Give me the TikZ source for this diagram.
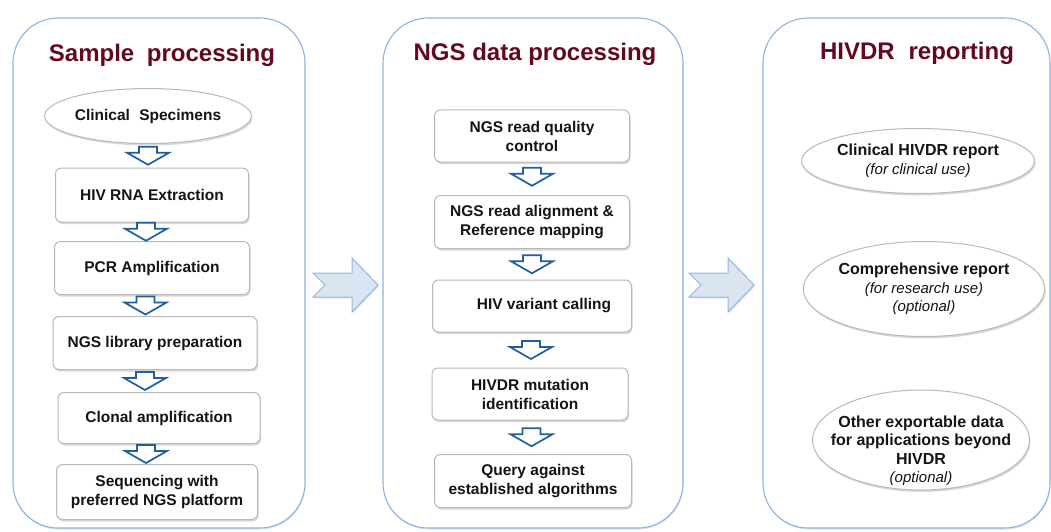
\documentclass[tikz,border=0pt]{standalone}
\usepackage{fontspec}
\setmainfont{Liberation Sans}
\usetikzlibrary{shapes.geometric,shadows,calc}
\definecolor{panelblue}{RGB}{141,179,226}
\definecolor{titlered}{RGB}{100,8,30}
\definecolor{arrblue}{RGB}{31,95,160}
\definecolor{bigfill}{RGB}{219,229,241}
\definecolor{bigdraw}{RGB}{150,182,218}
\definecolor{boxgray}{RGB}{185,185,185}
\definecolor{txt}{RGB}{20,20,20}
\tikzset{
  panel/.style={draw=panelblue, line width=1.1pt, rounded corners=45pt, fill=white,
    minimum height=510pt, inner sep=0pt,
    drop shadow={shadow xshift=0.5pt, shadow yshift=-1.5pt, opacity=0.35, fill=panelblue}},
  ptitle/.style={font=\fontsize{24}{28}\selectfont\bfseries, text=titlered, inner sep=0pt},
  stepbox/.style={draw=boxgray, line width=1pt, rounded corners=6pt, fill=white, align=center,
    inner sep=0pt, font=\fontsize{15.5}{19}\selectfont\bfseries, text=txt,
    drop shadow={shadow xshift=1pt, shadow yshift=-2pt, opacity=0.3}},
  oval/.style={ellipse, draw=boxgray, line width=1pt, fill=white, align=center,
    inner sep=0pt, font=\fontsize{16}{18.5}\selectfont\bfseries, text=txt,
    drop shadow={shadow xshift=1pt, shadow yshift=-2pt, opacity=0.3}},
  ovaltext/.style={align=center, inner sep=0pt, font=\fontsize{16}{18.5}\selectfont\bfseries, text=txt},
  downarr/.pic={\draw[arrblue, line width=1.7pt, fill=white, line join=miter]
    (-9,-9) -- (9,-9) -- (9,-3) -- (21,-3) -- (0,9) -- (-21,-3) -- (-9,-3) -- cycle;},
  bigarr/.pic={\filldraw[draw=bigdraw, fill=bigfill, line width=1pt, line join=miter,
    drop shadow={shadow xshift=1pt, shadow yshift=-1.5pt, opacity=0.2}]
    (-32,-12) -- (7,-12) -- (7,-27) -- (33,0) -- (7,27) -- (7,12) -- (-32,12) -- (-20,0) -- cycle;}
}
\newcommand{\ital}[1]{{\fontsize{15}{18.5}\selectfont\mdseries\itshape #1}}
\begin{document}
\begin{tikzpicture}[x=1pt,y=-1pt]
\useasboundingbox (0,0) rectangle (1051,532);
% panels
\node[panel, minimum width=292pt] (p1) at (159,273) {};
\node[panel, minimum width=300pt] (p2) at (533,273) {};
\node[panel, minimum width=287pt] (p3) at (906.5,273) {};
% titles
\node[ptitle] (t1) at (162,55) {Sample\hspace{0.25em} processing};
\node[ptitle] (t2) at (535,54) {NGS data processing};
\node[ptitle] (t3) at (917,53) {HIVDR\hspace{0.3em} reporting};
% panel 1
\node[oval, minimum width=170pt, minimum height=55pt, font=\fontsize{15.5}{19}\selectfont\bfseries] (e0) at (148,116) {Clinical\hspace{0.6em}Specimens};
\node[stepbox, minimum width=193pt, minimum height=54pt] (b1) at (152,195) {HIV RNA Extraction};
\node[stepbox, minimum width=195pt, minimum height=53pt] (b2) at (152,268) {PCR Amplification};
\node[stepbox, minimum width=204pt, minimum height=53pt] (b3) at (155,343) {NGS library preparation};
\node[stepbox, minimum width=202pt, minimum height=51pt] (b4) at (159,418) {Clonal amplification};
\node[stepbox, minimum width=201pt, minimum height=55pt] (b5) at (157,492) {Sequencing with\\preferred NGS platform};
\pic at ($(e0.south)!0.5!(b1.north)+(-2,0)$) {downarr};
\pic at ($(b1.south)!0.5!(b2.north)+(-6,0)$) {downarr};
\pic at ($(b2.south)!0.5!(b3.north)+(-8,0)$) {downarr};
\pic at ($(b3.south)!0.5!(b4.north)+(-12,0)$) {downarr};
\pic at ($(b4.south)!0.5!(b5.north)+(-12,0)$) {downarr};
% panel 2
\node[stepbox, minimum width=195pt, minimum height=52pt] (c1) at (532,136) {NGS read quality\\control};
\node[stepbox, minimum width=195pt, minimum height=53pt] (c2) at (532,222) {NGS read alignment \&\\Reference mapping};
\node[stepbox, minimum width=199pt, minimum height=52pt] (c3) at (532,306) {\hspace*{24pt}HIV variant calling};
\node[stepbox, minimum width=196pt, minimum height=52pt] (c4) at (530,394) {HIVDR mutation\\identification};
\node[stepbox, minimum width=197pt, minimum height=53pt] (c5) at (533,481) {Query against\\established algorithms};
\pic at ($(c1.south)!0.5!(c2.north)+(0,-2)$) {downarr};
\pic at ($(c2.south)!0.5!(c3.north)$) {downarr};
\pic at ($(c3.south)!0.5!(c4.north)$) {downarr};
\pic at ($(c4.south)!0.5!(c5.north)$) {downarr};
% panel 3
\node[oval, minimum width=233pt, minimum height=65pt] (r1) at (918,161) {Clinical HIVDR report\\\ital{(for clinical use)}};
\node[oval, minimum width=232pt, minimum height=95pt] (r2) at (924,289) {Comprehensive report\\\ital{(for research use)}\\\ital{(optional)}};
\node[oval, minimum width=217pt, minimum height=100pt] (r3) at (921,440) {};
\node[ovaltext] (r3t) at ($(r3.center)+(0,11)$) {Other exportable data\\for applications beyond\\HIVDR\\\ital{(optional)}};
% big arrows
\pic at ($(p1.east)!0.5!(p2.west)+(1,12)$) {bigarr};
\pic at ($(p2.east)!0.5!(p3.west)+(-2,12)$) {bigarr};
\end{tikzpicture}
\end{document}
